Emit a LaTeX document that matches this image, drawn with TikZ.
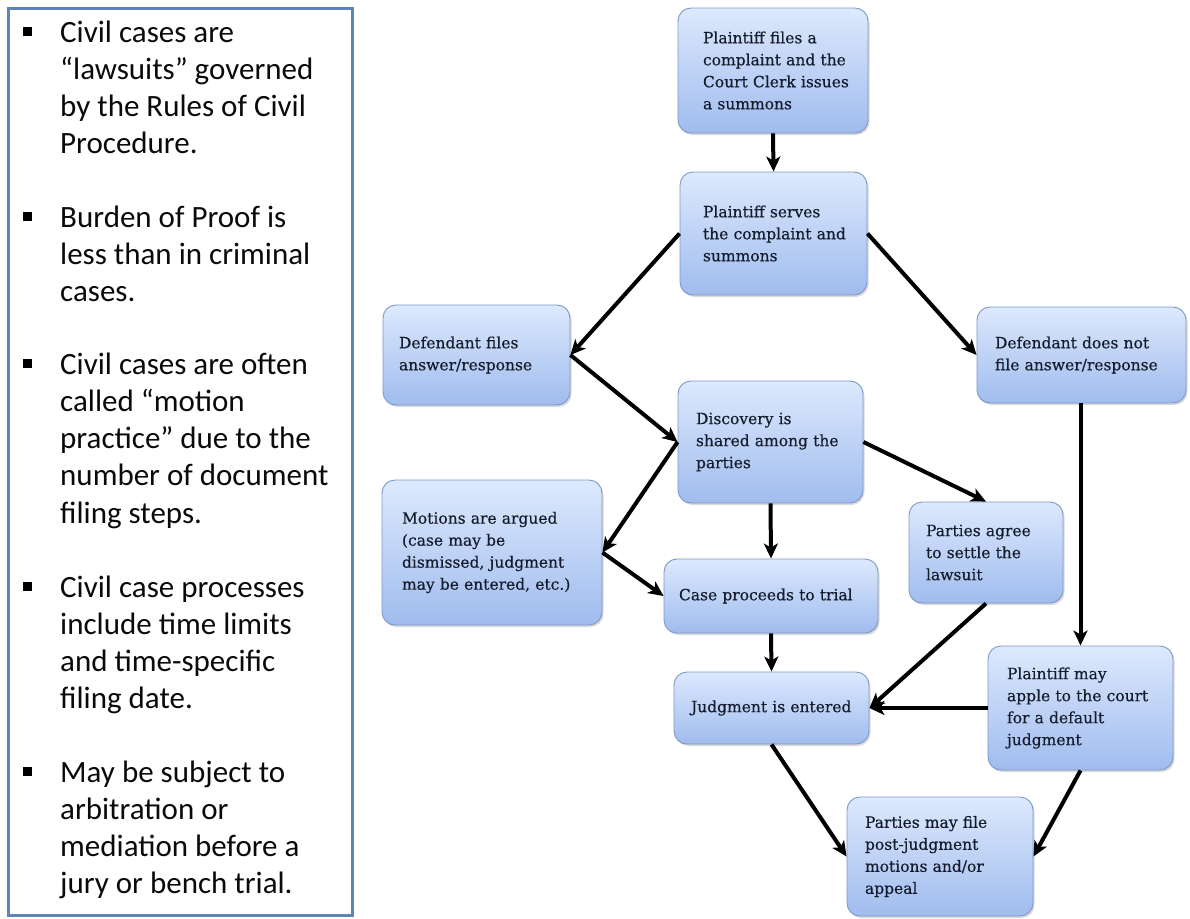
\documentclass[tikz,border=0pt]{standalone}
\usepackage{fontspec}
\setmainfont{DejaVu Serif}[FakeBold=0.35]
\newfontfamily\stepfont{DejaVu Serif}[FakeBold=0.35]
\newfontfamily\panelfont{Carlito}
\usetikzlibrary{arrows.meta,shadows}

\definecolor{boxtop}{HTML}{DDE9FD}
\definecolor{boxbot}{HTML}{A0BCEE}
\definecolor{boxedge}{HTML}{7C98C8}
\definecolor{boxtext}{HTML}{141B2B}
\definecolor{paneledge}{HTML}{5F84BC}
\definecolor{paneltext}{HTML}{0A0A0A}

% one unbreakable line of step text
\newcommand\bline[1]{\mbox{#1}}
\newcommand\notepar[1]{\parbox[t]{290pt}{\panelfont\fontsize{31}{37.3}\selectfont\raggedright #1}}

\begin{document}
\begin{tikzpicture}[x=1pt,y=-1pt,
  stepbox/.style={rounded corners=13pt, draw=boxedge, line width=0.9pt,
    top color=boxtop, bottom color=boxbot,
    drop shadow={shadow xshift=1.5pt, shadow yshift=-2pt, opacity=0.3},
    text=boxtext, align=left, inner sep=0pt,
    font=\stepfont\fontsize{15.5}{22}\selectfont},
  flow/.style={line width=4pt, draw=black,
    -{Stealth[length=15pt,width=14pt,inset=4pt]}},
  para/.style={anchor=base west, inner sep=0pt, text=paneltext},
  bullet/.style={fill=black}
]
\useasboundingbox (0,0) rectangle (1190,918);

% side panel with the summary notes
\draw[paneledge, line width=3pt] (8,8) rectangle (352,915);

\node[para] (n1) at (60,42)  {\notepar{Civil cases are\\“lawsuits” governed\\by the Rules of Civil\\Procedure.}};
\node[para] (n2) at (60,227) {\notepar{Burden of Proof is\\less than in criminal\\cases.}};
\node[para] (n3) at (60,374) {\notepar{Civil cases are often\\called “motion\\practice” due to the\\number of document\\filing steps.}};
\node[para] (n4) at (60,597) {\notepar{Civil case processes\\include time limits\\and time-specific\\filing date.}};
\node[para] (n5) at (60,782) {\notepar{May be subject to\\arbitration or\\mediation before a\\jury or bench trial.}};

\foreach \b in {42,227,374,597,782}
  \fill[bullet] (23,\b-15) rectangle (32,\b-6);

% flowchart steps
\node[stepbox, minimum width=190pt, minimum height=125pt, text width=140pt] (plf) at (773,70.5)
  {\bline{Plaintiff files a}\\\bline{complaint and the}\\\bline{Court Clerk issues}\\\bline{a summons}};
\node[stepbox, minimum width=187pt, minimum height=123pt, text width=141pt] (serve) at (773.5,233.5)
  {\bline{Plaintiff serves}\\\bline{the complaint and}\\\bline{summons}};
\node[stepbox, minimum width=187pt, minimum height=100pt, text width=155pt] (dfiles) at (476.5,355)
  {\bline{Defendant files}\\\bline{answer/response}};
\node[stepbox, minimum width=209pt, minimum height=96pt, text width=173pt] (dnot) at (1081.5,355)
  {\bline{Defendant does not}\\\bline{file answer/response}};
\node[stepbox, minimum width=185pt, minimum height=122pt, text width=149pt] (disc) at (770.5,442)
  {\bline{Discovery is}\\\bline{shared among the}\\\bline{parties}};
\node[stepbox, minimum width=220pt, minimum height=145pt, text width=180pt] (motions) at (492,552.5)
  {\bline{Motions are argued}\\\bline{(case may be}\\\bline{dismissed, judgment}\\\bline{may be entered, etc.)}};
\node[stepbox, minimum width=154pt, minimum height=101pt, text width=120pt] (settle) at (986,552.5)
  {\bline{Parties agree}\\\bline{to settle the}\\\bline{lawsuit}};
\node[stepbox, minimum width=214pt, minimum height=74pt, text width=184pt] (trial) at (771,596)
  {\bline{Case proceeds to trial}};
\node[stepbox, minimum width=195pt, minimum height=72pt, text width=161pt] (judg) at (771.5,708)
  {\bline{Judgment is entered}};
\node[stepbox, minimum width=185pt, minimum height=124pt, text width=147pt] (default) at (1080.5,708)
  {\bline{Plaintiff may}\\\bline{apple to the court}\\\bline{for a default}\\\bline{judgment}};
\node[stepbox, minimum width=186pt, minimum height=119pt, text width=150pt] (post) at (940,856.5)
  {\bline{Parties may file}\\\bline{post-judgment}\\\bline{motions and/or}\\\bline{appeal}};

% connectors
\draw[flow] (plf.south) -- (serve.north);
\draw[flow] (serve.west) -- (dfiles.east);
\draw[flow] (serve.east) -- (dnot.west);
\draw[flow] (dfiles.east) -- (disc.west);
\draw[flow] (disc.west) -- (motions.east);
\draw[flow] (motions.east) -- (trial.west);
\draw[flow] (disc.south) -- (trial.north);
\draw[flow] (disc.east) -- (settle.north);
\draw[flow] (default.north |- dnot.south) -- (default.north);
\draw[flow] (trial.south) -- (judg.north);
\draw[flow] (settle.south) -- (judg.east);
\draw[flow] (default.west) -- (judg.east);
\draw[flow] (judg.south) -- (post.west);
\draw[flow] (default.south) -- (post.east);
\end{tikzpicture}
\end{document}
